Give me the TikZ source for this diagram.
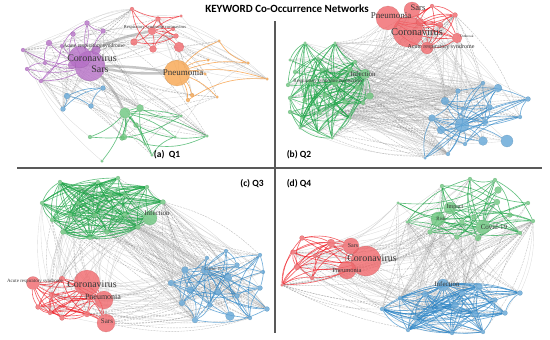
\documentclass[tikz,border=0pt]{standalone}
\usepackage{fontspec}
\setmainfont{Liberation Serif}
\newfontfamily\panelfont{Carlito}
\pgfdeclarelayer{far}
\pgfdeclarelayer{near}
\pgfsetlayers{far,near,main}
\definecolor{netred}{HTML}{F0676B}
\definecolor{edgered}{HTML}{EE1C24}
\definecolor{netpurple}{HTML}{B56FC6}
\definecolor{edgepurple}{HTML}{A24DB8}
\definecolor{netorange}{HTML}{F7A54F}
\definecolor{edgeorange}{HTML}{F58A1F}
\definecolor{netblue}{HTML}{62A5D6}
\definecolor{edgeblue}{HTML}{2F86C6}
\definecolor{netgreen}{HTML}{6CC67E}
\definecolor{edgegreen}{HTML}{1FA548}
\definecolor{netgray}{HTML}{C4C4C4}
\tikzset{
  kw/.style={circle, inner sep=0pt, fill=#1, fill opacity=0.8,
    draw=#1!75!black, draw opacity=0.4, line width=0.3pt},
  tie/.style={draw=#1, line width=0.65pt, draw opacity=0.68},
  crosstie/.style={draw=netgray, line width=0.35pt, draw opacity=0.6},
  dashtie/.style={draw=gray, line width=0.4pt, draw opacity=0.5, dash pattern=on 2pt off 1pt},
  bundle/.style={draw=gray, line width=2.5pt, draw opacity=0.45},
  kwlabel/.style={text=black!78, inner sep=0pt},
  panel/.style={font=\panelfont\bfseries\fontsize{9.5}{10}\selectfont},
  divider/.style={draw=black!65, line width=1.1pt}
}
\newcommand{\kwsize}[1]{\fontsize{#1}{#1}\selectfont}
\newcommand{\weave}[4]{%
  \foreach \ia in {2,...,#2}{\draw[tie=#3] (#11) to[bend left=12] (#1\ia);}
  \foreach \ia in {2,...,#2}{\foreach \jb in {2,...,#2}{%
    \ifnum\ia<\jb
      \pgfmathtruncatemacro\kk{mod(\ia*\jb+\ia+2*\jb,#4)}%
      \ifnum\kk=0 \draw[tie=#3] (#1\ia) to[bend right=18] (#1\jb);\fi
    \fi}}}
\newcommand{\crossweave}[5]{%
  \foreach \ia in {1,...,#2}{\foreach \jb in {1,...,#4}{%
    \pgfmathtruncatemacro\kk{mod(5*\ia+7*\jb+\ia*\jb,#5)}%
    \ifnum\kk=0
      \pgfmathtruncatemacro\bb{mod(\ia+\jb,3)*14-14}%
      \pgfmathtruncatemacro\dd{mod(\ia*\jb+\jb,6)}%
      \ifnum\dd=0 \draw[dashtie] (#1\ia) to[bend left=\bb] (#3\jb);
      \else \draw[crosstie] (#1\ia) to[bend left=\bb] (#3\jb);\fi
    \fi}}}
\begin{document}
\begin{tikzpicture}[x=1pt,y=-1pt]
\useasboundingbox (0,0) rectangle (550,340);

\node[font=\panelfont\bfseries\fontsize{11}{12}\selectfont] (title) at (287,9) {KEYWORD Co-Occurrence Networks};
\draw[divider] (275,21) -- (275,333);
\draw[divider] (17,168) -- (542,168);
\node[panel] (qa) at (167,155) {(a)~~Q1};
\node[panel] (qb) at (299,155) {(b)~Q2};
\node[panel] (qc) at (252,184) {(c)~Q3};
\node[panel] (qd) at (299,184) {(d)~Q4};

\foreach \x/\y/\s [count=\n] in {90/66/30pt,80/57/22pt,87/23/5pt,73/34/5pt,103/31/5pt,49/43/6pt,23/50/4pt,45/63/4pt,27/69/4pt,41/81/4pt,72/65/8pt,62/46/4pt,96/50/9pt}
  \node[kw=netpurple, minimum size=\s] (aP\n) at (\x,\y) {};
\foreach \x/\y/\s [count=\n] in {152/31/8pt,132/9/4pt,158/19/5pt,181/16/3pt,173/29/4pt,134/42/7pt,153/49/7pt,179/47/10pt,176/36/5pt}
  \node[kw=netred, minimum size=\s] (aR\n) at (\x,\y) {};
\foreach \x/\y/\s [count=\n] in {177/73/26pt,219/41/3pt,208/60/3pt,248/63/3pt,267/79/3pt,217/97/3pt,188/100/4pt,192/95/4pt,205/74/3pt}
  \node[kw=netorange, minimum size=\s] (aO\n) at (\x,\y) {};
\foreach \x/\y/\s [count=\n] in {67/96/6pt,103/88/5pt,63/109/5pt,91/106/5pt}
  \node[kw=netblue, minimum size=\s] (aB\n) at (\x,\y) {};
\foreach \x/\y/\s [count=\n] in {125/113/11pt,140/108/7pt,136/125/5pt,122/138/5pt,90/137/4pt,145/144/3pt,181/116/3pt,175/137/3pt,207/136/3pt,152/155/3pt,102/161/3pt,124/137/6pt}
  \node[kw=netgreen, minimum size=\s] (aG\n) at (\x,\y) {};

\foreach \x/\y/\s [count=\n] in {408/32/30pt,388/18/24pt,412/10/16pt,427/48/12pt,457/38/10pt,455/15/5pt,432/6/4pt,440/25/6pt,420/22/8pt}
  \node[kw=netred, minimum size=\s] (bR\n) at (\x,\y) {};
\foreach \x/\y/\s [count=\n] in {365/74/10pt,305/43/3pt,335/43/3pt,290/60/3pt,318/58/3pt,355/62/4pt,295/72/4pt,322/70/4pt,350/70/6pt,288/85/4pt,310/82/5pt,335/82/8pt,358/88/6pt,370/96/7pt,290/98/4pt,305/100/5pt,325/95/5pt,345/102/5pt,363/103/4pt,290/112/4pt,302/118/3pt,320/113/4pt,340/112/3pt,300/128/3pt,318/132/3pt,340/129/3pt,332/138/3pt,350/118/3pt}
  \node[kw=netgreen, minimum size=\s] (bG\n) at (\x,\y) {};
\foreach \x/\y/\s [count=\n] in {462/125/14pt,507/141/12pt,445/101/8pt,432/118/7pt,498/88/8pt,483/141/9pt,441/130/8pt,528/99/5pt,485/122/6pt,458/91/5pt,483/83/4pt,520/117/4pt,490/107/5pt,465/144/4pt,448/154/4pt,425/158/3pt,463/109/4pt}
  \node[kw=netblue, minimum size=\s] (bB\n) at (\x,\y) {};

\foreach \x/\y/\s [count=\n] in {150/218/14pt,60/182/4pt,80/188/4pt,98/182/4pt,118/178/4pt,147/187/4pt,42/203/4pt,163/202/5pt,52/220/4pt,63/232/5pt,90/238/4pt,107/232/5pt,138/227/5pt,125/195/4pt,78/203/4pt,110/195/4pt,95/215/5pt,125/215/5pt,70/215/4pt}
  \node[kw=netgreen, minimum size=\s] (cG\n) at (\x,\y) {};
\foreach \x/\y/\s [count=\n] in {87/283/26pt,104/300/18pt,106/323/18pt,33/283/13pt,62/279/6pt,52/295/6pt,38/307/5pt,62/318/5pt,87/314/6pt,90/298/5pt,50/313/4pt}
  \node[kw=netred, minimum size=\s] (cR\n) at (\x,\y) {};
\foreach \x/\y/\s [count=\n] in {205/270/8pt,185/270/7pt,228/278/8pt,230/316/9pt,195/320/6pt,171/283/6pt,190/290/7pt,218/292/6pt,260/288/5pt,267/309/5pt,237/265/5pt,260/255/4pt,226/251/4pt,207/258/4pt,237/296/5pt,182/303/6pt,263/272/4pt,250/318/4pt,210/305/5pt}
  \node[kw=netblue, minimum size=\s] (cB\n) at (\x,\y) {};

\foreach \x/\y/\s [count=\n] in {483/227/14pt,450/208/12pt,438/219/14pt,498/190/7pt,470/179/4pt,497/202/6pt,528/203/4pt,533/221/4pt,520/233/4pt,478/238/6pt,457/237/5pt,430/232/5pt,407/222/3pt,398/203/3pt,442/186/4pt,474/217/5pt,510/215/5pt,462/222/5pt,495/180/4pt}
  \node[kw=netgreen, minimum size=\s] (dG\n) at (\x,\y) {};
\foreach \x/\y/\s [count=\n] in {366/261/30pt,351/246/16pt,347/270/18pt,331/243/8pt,302/238/5pt,293/252/5pt,297/267/6pt,312/278/4pt,282/285/3pt,315/256/4pt}
  \node[kw=netred, minimum size=\s] (dR\n) at (\x,\y) {};
\foreach \x/\y/\s [count=\n] in {443/285/12pt,479/287/7pt,520/293/5pt,425/294/6pt,400/298/4pt,382/309/4pt,455/305/7pt,475/314/7pt,505/313/5pt,415/318/5pt,452/333/4pt,483/332/4pt,408/330/4pt,440/307/5pt,462/293/6pt,495/300/5pt,430/310/5pt}
  \node[kw=netblue, minimum size=\s] (dB\n) at (\x,\y) {};

\begin{pgfonlayer}{far}
\crossweave{aP}{13}{aO}{9}{6}
\crossweave{aP}{13}{aR}{9}{7}
\crossweave{aR}{9}{aO}{9}{5}
\crossweave{aP}{13}{aG}{12}{7}
\crossweave{aO}{9}{aG}{12}{6}
\crossweave{aB}{4}{aG}{12}{4}
\crossweave{aB}{4}{aP}{13}{5}
\draw[bundle] (aP1) to[bend left=4] (aO1);
\draw[bundle] (aP1) to[bend right=6] (aO1);
\draw[bundle] (aP1) to[bend left=10] (aG1);
\draw[bundle] (aP2) to[bend left=8] (aR1);
\crossweave{bG}{28}{bR}{9}{3}
\crossweave{bB}{17}{bR}{9}{3}
\crossweave{bG}{28}{bB}{17}{5}
\crossweave{cG}{19}{cR}{11}{3}
\crossweave{cG}{19}{cB}{19}{5}
\crossweave{cR}{11}{cB}{19}{3}
\crossweave{dR}{10}{dG}{19}{3}
\crossweave{dR}{10}{dB}{17}{3}
\crossweave{dG}{19}{dB}{17}{5}
\end{pgfonlayer}

\begin{pgfonlayer}{near}
\weave{aP}{13}{edgepurple}{7}
\weave{aR}{9}{edgered}{3}
\weave{aO}{9}{edgeorange}{9}
\weave{aB}{4}{edgeblue}{2}
\weave{aG}{12}{edgegreen}{6}
\weave{bR}{9}{edgered}{2}
\weave{bG}{28}{edgegreen}{3}
\weave{bB}{17}{edgeblue}{4}
\weave{cG}{19}{edgegreen}{2}
\weave{cR}{11}{edgered}{2}
\weave{cB}{19}{edgeblue}{3}
\weave{dG}{19}{edgegreen}{3}
\weave{dR}{10}{edgered}{2}
\weave{dB}{17}{edgeblue}{2}
\end{pgfonlayer}

\node[kwlabel, font=\kwsize{10}] (aCoronaTxt) at (92,58) {Coronavirus};
\node[kwlabel, font=\kwsize{10}] (aSarsTxt) at (100,69) {Sars};
\node[kwlabel, font=\kwsize{5.5}] (aAcuteTxt) at (94,46) {Acute respiratory syndrome};
\node[kwlabel, font=\kwsize{9}] (aPneuTxt) at (183,73) {Pneumonia};
\node[kwlabel, font=\kwsize{4.5}] (aRscTxt) at (155,27) {Respiratory syndrome coronavirus};

\node[kwlabel, font=\kwsize{9}] (bPneuTxt) at (391,16) {Pneumonia};
\node[kwlabel, font=\kwsize{8.5}] (bSarsTxt) at (418,8) {Sars};
\node[kwlabel, font=\kwsize{10.5}] (bCoronaTxt) at (417,32) {Coronavirus};
\node[kwlabel, font=\kwsize{6}] (bAcuteTxt) at (441,47) {Acute respiratory syndrome};
\node[kwlabel, font=\kwsize{3.5}] (bOutTxt) at (467,36) {Outbreak};
\node[kwlabel, font=\kwsize{7}] (bInfTxt) at (363,74) {Infection};
\node[kwlabel, font=\kwsize{5}] (bRscTxt) at (328,81) {Respiratory syndrome coronavirus};

\node[kwlabel, font=\kwsize{7}] (cInfTxt) at (157,213) {Infection};
\node[kwlabel, font=\kwsize{10}] (cCoronaTxt) at (92,284) {Coronavirus};
\node[kwlabel, font=\kwsize{8}] (cPneuTxt) at (103,297) {Pneumonia};
\node[kwlabel, font=\kwsize{7}] (cSarsTxt) at (107,321) {Sars};
\node[kwlabel, font=\kwsize{5}] (cAcuteTxt) at (35,281) {Acute respiratory syndrome};
\node[kwlabel, font=\kwsize{4.5}] (cCovidTxt) at (213,269) {Covid-19};

\node[kwlabel, font=\kwsize{7}] (dCovidTxt) at (494,227) {Covid-19};
\node[kwlabel, font=\kwsize{6}] (dImpactTxt) at (455,207) {Impact};
\node[kwlabel, font=\kwsize{5}] (dRiskTxt) at (441,219) {Risk};
\node[kwlabel, font=\kwsize{10}] (dCoronaTxt) at (372,258) {Coronavirus};
\node[kwlabel, font=\kwsize{6}] (dSarsTxt) at (353,246) {Sars};
\node[kwlabel, font=\kwsize{6.5}] (dPneuTxt) at (347,270) {Pneumonia};
\node[kwlabel, font=\kwsize{7}] (dInfTxt) at (447,284) {Infection};
\end{tikzpicture}
\end{document}
